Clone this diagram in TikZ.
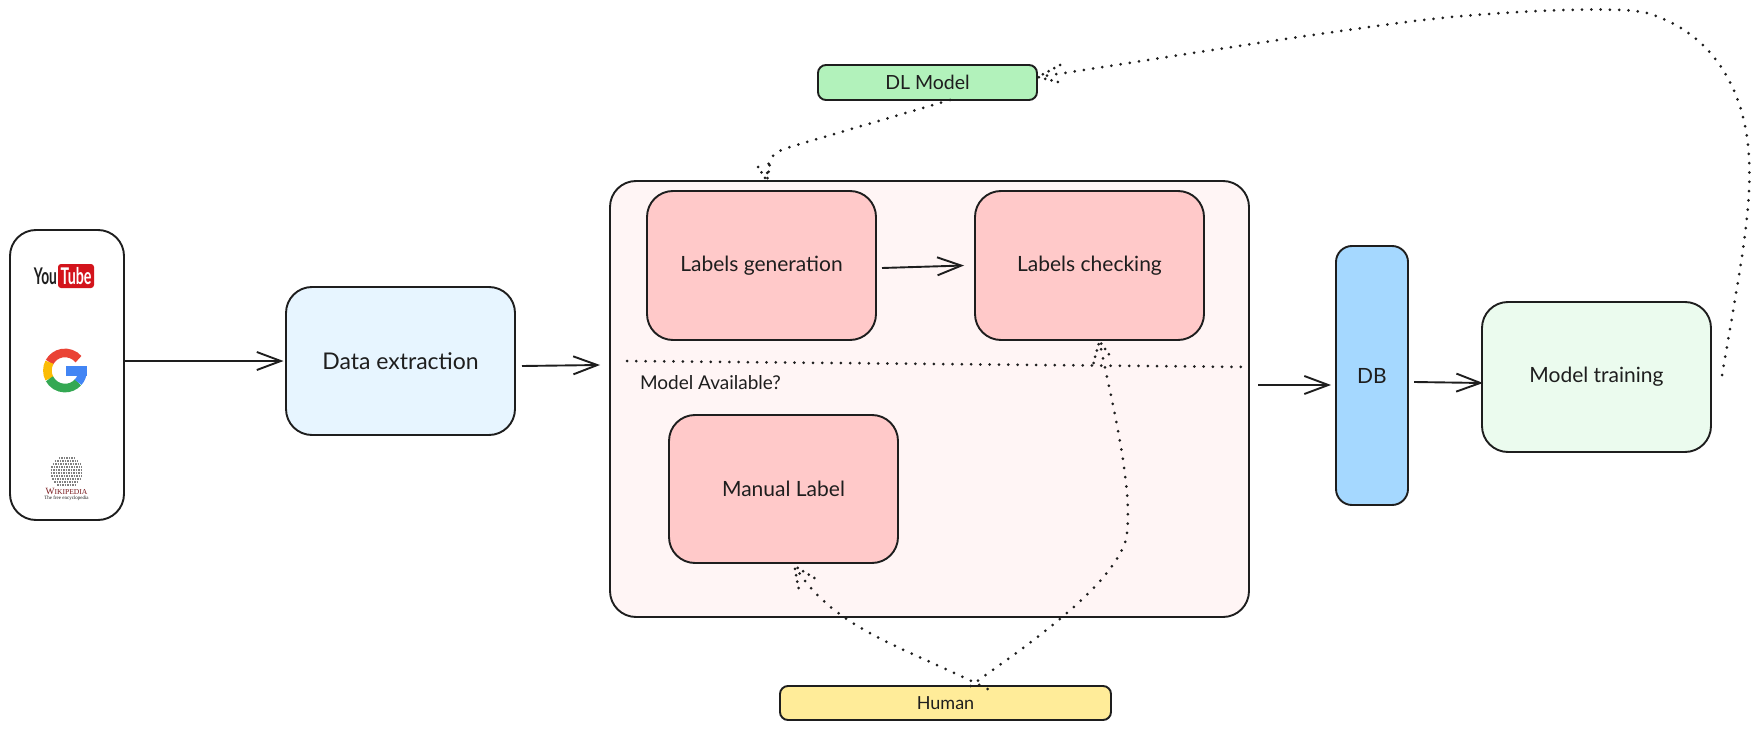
\documentclass[tikz,border=0pt]{standalone}
\usepackage{fontspec}
\setmainfont{Lato}
\newfontfamily\wikifont{Liberation Serif}
\usetikzlibrary{positioning}
\usetikzlibrary{arrows.meta}
\usetikzlibrary{calc}
\definecolor{ink}{HTML}{1E1E1E}
\definecolor{redbox}{HTML}{FFC9C9}
\definecolor{paleblue}{HTML}{E7F5FF}
\definecolor{palegreen}{HTML}{EBFBEE}
\definecolor{palered}{HTML}{FFF5F5}
\definecolor{dbblue}{HTML}{A5D8FF}
\definecolor{dlgreen}{HTML}{B2F2BB}
\definecolor{humanyellow}{HTML}{FFEC99}
\definecolor{ytred}{HTML}{D3141C}
\definecolor{wikired}{HTML}{7A1A1E}
\definecolor{gred}{HTML}{EA4335}
\definecolor{gyellow}{HTML}{FBBC05}
\definecolor{ggreen}{HTML}{34A853}
\definecolor{gblue}{HTML}{4285F4}

\begin{document}
\begin{tikzpicture}[x=1pt,y=-1pt,every node/.style={outer sep=0pt,inner sep=0pt},
 box/.style={draw=ink,line width=1.9pt,rounded corners=26pt,font=\fontsize{21}{24}\selectfont,
 text=ink,minimum width=229pt,minimum height=149pt},
 tag/.style={box,rounded corners=8pt,minimum height=35pt,font=\fontsize{19.5}{22}\selectfont},
 flow/.style={draw=ink,line width=1.9pt,-{Straight Barb[length=24pt,width=18pt]}},
 dots/.style={draw=ink,line width=3pt,line cap=round,dash pattern=on 0pt off 9.3pt},
 gpic/.pic={\draw[y=1pt,line width=8.6pt,gred] (40:17.6) arc (40:152:17.6);
 \draw[y=1pt,line width=8.6pt,gyellow] (152:17.6) arc (152:208:17.6);
 \draw[y=1pt,line width=8.6pt,ggreen] (208:17.6) arc (208:318:17.6);
 \draw[y=1pt,line width=8.6pt,gblue] (318:17.6) arc (318:360:17.6);
 \fill[y=1pt,gblue] (0.6,4.5) rectangle (22,-5);}]

  \useasboundingbox (0,0) rectangle (1759,730);

  % sources
  \node[box,minimum width=114pt,minimum height=290pt,fill=white] (src) at (67,375) {};
  \node[box,minimum width=229pt,minimum height=148pt,fill=paleblue,right=162pt of src,yshift=14pt,
   font=\fontsize{23}{26}\selectfont] (extract) {Data extraction};
  \node[box,minimum width=639pt,minimum height=436pt,fill=palered,right=95pt of extract,yshift=-38pt] (big) {};

  % labelling steps
  \node[box,fill=redbox,below right=10pt and 37pt of big.north west] (gen) {Labels generation};
  \node[box,fill=redbox,right=99pt of gen] (chk) {Labels checking};
  \node[box,minimum height=148pt,fill=redbox,below=75pt of gen,xshift=22pt] (manual) {Manual Label};
  \node[right=30pt of big.west,yshift=16pt,text=ink,font=\fontsize{19}{22}\selectfont] (avail) {Model Available?};

  \node[tag,minimum width=219pt,fill=dlgreen,above=81pt of big,xshift=-2pt] (dl) {DL Model};
  \node[tag,minimum width=331pt,minimum height=34pt,fill=humanyellow,below=69pt of big,xshift=16pt,
   font=\fontsize{18}{20}\selectfont] (human) {Human};
  \node[box,rounded corners=16pt,minimum width=72pt,minimum height=259pt,fill=dbblue,right=87pt of big,yshift=23.5pt] (db) {DB};
  \node[box,minimum height=150pt,fill=palegreen,right=74pt of db,yshift=-1.5pt] (train) {Model training};

  % logos in the source box
  \node[fill=ytred,rounded corners=3pt,minimum width=36pt,minimum height=24pt,text=white,
   font=\fontsize{23}{23}\bfseries] (tube) at (76,276) {\scalebox{0.62}[1]{Tube}};
  \node[left=1pt of tube,text=ink,font=\fontsize{23}{23}\bfseries] (you) {\scalebox{0.6}[1]{You}};
  \pic at (65,370.5) {gpic};
  \node[circle,minimum size=32pt] (globe) at (66.5,472) {};
  \foreach \Y in {-14,-11,...,14}
  {\draw[black!50,line width=1.2pt,dash pattern=on 1.5pt off 1pt]
   ($(globe)+({-sqrt(256-\Y*\Y)},\Y)$) -- ($(globe)+({sqrt(256-\Y*\Y)},\Y)$);
  }
  \node[below=0.5pt of globe,text=wikired,font=\wikifont\fontsize{9.5}{10}\selectfont] (wiki) {W\scalebox{0.8}{IKIPEDIA}};
  \node[below=1.5pt of wiki,text=ink,font=\wikifont\fontsize{5}{5}\selectfont] (enc) {The free encyclopedia};

  % arrows
  \draw[flow] ([xshift=1pt,yshift=14pt]src.east) -- ([xshift=-2.5pt]extract.west);
  \draw[flow] ([xshift=7pt,yshift=-5pt]extract.east) -- ([xshift=-10pt,yshift=34pt]big.west);
  \draw[flow] ([xshift=6pt,yshift=-2.5pt]gen.east) -- ([xshift=-11pt]chk.west);
  \draw[flow] ([xshift=9pt,yshift=14pt]big.east) -- ([xshift=-5pt,yshift=-9.5pt]db.west);
  \draw[flow] ([xshift=6pt,yshift=-6.5pt]db.east) -- ([xshift=1pt,yshift=-6pt]train.west);

  \draw[dots] ([xshift=17pt,yshift=38pt]big.west) -- ([xshift=-1pt,yshift=32pt]big.east);

  % dotted connectors
  \coordinate (tipdl) at ([xshift=1pt,yshift=5.5pt]dl.east);
  \coordinate (tipbig) at ([xshift=-162.5pt]big.north);
  \coordinate (tipchk) at ([xshift=10pt,yshift=-1pt]chk.south);
  \coordinate (tipman) at ([xshift=11pt,yshift=-3pt]manual.south);
  \coordinate (trainout) at ([xshift=11pt,yshift=2pt]train.east);

  \draw[dots] (trainout) .. controls (1740,270) and (1752,210) .. (1749,157)
   .. controls (1746,100) and (1720,35) .. (1647,13)
   .. controls (1620,5) and (1480,12) .. (1407,22)
   .. controls (1290,37) and (1150,60) .. (tipdl);
  \draw[dots] ([xshift=22.5pt]dl.south) -- (790,147) .. controls (770,153) and (767,160) .. (tipbig);
  \draw[dots] ([xshift=25pt]human.north) .. controls (1020,650) and (1110,590) .. (1126,540)
   .. controls (1135,490) and (1110,395) .. (tipchk);
  \draw[dots] ([xshift=42pt,yshift=-3pt]human.north) .. controls (900,645) and (835,630) .. (tipman);

  % dotted barbs
  \foreach \T/\ax/\ay/\bx/\by in {tipdl/22/-12/24/6,tipbig/-9/-14/3/-18,tipchk/-6/22/12/17,tipman/4/22/20/12}
  {\draw[dots,dash pattern=on 0pt off 6.5pt] ($(\T)+(\ax,\ay)$) -- (\T) -- ($(\T)+(\bx,\by)$);
  }

\end{tikzpicture}
\end{document}
